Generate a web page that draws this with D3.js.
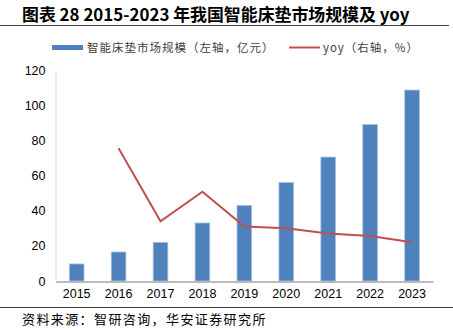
<!DOCTYPE html>
<html><head><meta charset="utf-8">
<script src="https://cdn.jsdelivr.net/npm/d3@7"></script>
<style>body{margin:0;background:#fff}svg{display:block}</style>
</head><body>
<script>
const categories = ["2015","2016","2017","2018","2019","2020","2021","2022","2023"];
const marketSize = [9.7, 16.5, 22, 33, 43, 56, 70.5, 89, 108.6];
const yoy = [null, 75.5, 34, 50.8, 31, 30, 27, 25.6, 22];
const yTicks = [0, 20, 40, 60, 80, 100, 120];

const W = 453, H = 331;
const svg = d3.select("body").append("svg").attr("width", W).attr("height", H);
const x = d3.scaleBand().domain(categories).range([55.7, 433]).paddingInner(0.65).paddingOuter(0.325);
const y = d3.scaleLinear().domain([0, 120]).range([281, 70]);

svg.append("text").attr("x", 22).attr("y", 21)
  .attr("font-family", "'Noto Sans CJK SC', sans-serif").attr("font-weight", "bold")
  .attr("font-size", 16.9).attr("fill", "#000")
  .text("图表 28 2015-2023 年我国智能床垫市场规模及 yoy");
svg.append("line").attr("x1", 0).attr("x2", 449).attr("y1", 25.5).attr("y2", 25.5)
  .attr("stroke", "#404040").attr("stroke-width", 1);

// legend
const lg = svg.append("g").attr("font-family", "'Noto Sans CJK SC', sans-serif").attr("font-size", 11.5)
  .attr("letter-spacing", 1).attr("fill", "#404040");
lg.append("rect").attr("x", 52).attr("y", 45).attr("width", 31).attr("height", 5).attr("fill", "#4f81bd");
lg.append("text").attr("x", 87).attr("y", 52).text("智能床垫市场规模（左轴，亿元）");
lg.append("line").attr("x1", 289).attr("x2", 320).attr("y1", 47.5).attr("y2", 47.5).attr("stroke", "#c0504d").attr("stroke-width", 2);
lg.append("text").attr("x", 323).attr("y", 52).text("yoy（右轴，%）");

// y axis
const ya = svg.append("g").attr("transform", "translate(55.5,0)")
  .call(d3.axisLeft(y).tickValues(yTicks).tickSize(0).tickPadding(10));
ya.select(".domain").attr("stroke", "#d9d9d9");
ya.selectAll("text").attr("font-family", "'Liberation Sans', Arial, sans-serif").attr("font-size", 12.5).attr("fill", "#000");

// bars
svg.append("g").selectAll("rect").data(categories).join("rect")
  .attr("x", d => x(d)).attr("width", x.bandwidth())
  .attr("y", (d, i) => y(marketSize[i])).attr("height", (d, i) => y(0) - y(marketSize[i]))
  .attr("fill", "#4f81bd").attr("stroke", "#a9c2e0").attr("stroke-width", 0.8);

// x axis
const xa = svg.append("g").attr("transform", "translate(0,281.5)")
  .call(d3.axisBottom(x).tickSize(0).tickPadding(8));
xa.select(".domain").attr("stroke", "#a6a6a6").attr("stroke-width", 1.5);
xa.selectAll("text").attr("font-family", "'Liberation Sans', Arial, sans-serif").attr("font-size", 12.5).attr("fill", "#000");

// line
const line = d3.line().defined(d => d.v != null)
  .x(d => x(d.c) + x.bandwidth() / 2).y(d => y(d.v));
svg.append("path").datum(categories.map((c, i) => ({c, v: yoy[i]})))
  .attr("d", line).attr("fill", "none").attr("stroke", "#c0504d").attr("stroke-width", 2);

svg.append("line").attr("x1", 0).attr("x2", W).attr("y1", 307.5).attr("y2", 307.5)
  .attr("stroke", "#404040").attr("stroke-width", 1);
svg.append("text").attr("x", 22).attr("y", 324)
  .attr("font-family", "'Noto Sans CJK SC', sans-serif").attr("font-size", 13).attr("letter-spacing", 1.4).attr("fill", "#000")
  .text("资料来源：智研咨询，华安证券研究所");
</script>
</body></html>
